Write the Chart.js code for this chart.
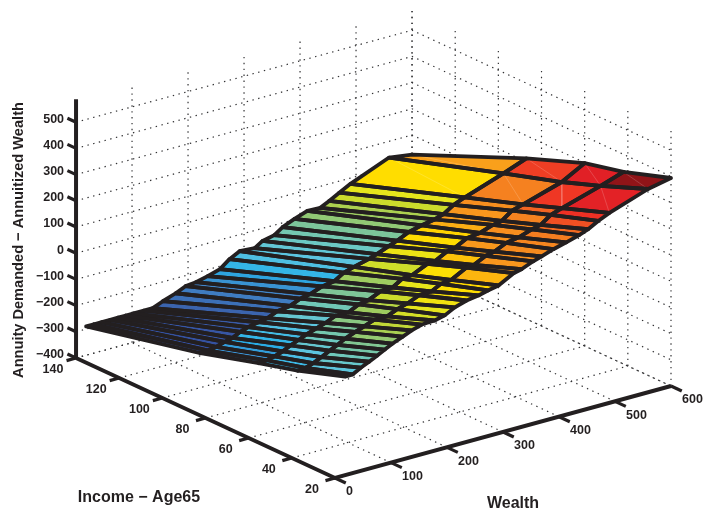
<!DOCTYPE html>
<html>
<head>
<meta charset="utf-8">
<title>Annuity surface</title>
<script src="https://cdn.jsdelivr.net/npm/chart.js@4"></script>
<style>
  html, body { margin: 0; padding: 0; background: #fff; }
  canvas { display: block; }
</style>
</head>
<body>
<canvas id="chart" width="704" height="515"></canvas>
<script>
// surface values, one z list per income line
const incomeLines = [140, 87, 60, 42, 20];
const wealthLines = [18, 32, 46, 61, 75, 89, 103, 121, 137, 155, 178, 196, 214, 235, 257, 274, 292, 319, 333, 354, 369, 390, 413, 436, 452, 470, 490, 559, 600];
const zIncome140 = [-290, -290, -290, -290, -290, -290, -290, -290, -290, -274, -257, -240, -236, -225, -211, -183, -163, -167, -148, -138, -116, -97, -80, -82, -65, -44, -22, 38, 25];
const zIncome87 = [-190, -188, -182, -172, -165, -150, -140, -132, -126, -110, -103, -86, -79, -62, -55, -32, -21, -6, 4, 22, 34, 55, 67, 76, 87, 112, 129, 180, 213];
const zIncome60 = [-125, -122, -115, -105, -90, -78, -65, -52, -41, -24, -25, -5, 1, 22, 24, 47, 51, 78, 81, 105, 111, 135, 141, 158, 164, 193, 205, 250, 298];
const zIncome42 = [-85, -82, -72, -58, -42, -28, -12, 3, 15, 30, 29, 46, 57, 76, 78, 97, 101, 132, 135, 157, 164, 185, 193, 210, 218, 245, 259, 304, 333];
const zIncome20 = [-24, -23, -6, 8, 23, 38, 53, 69, 83, 95, 97, 106, 126, 140, 147, 156, 164, 195, 202, 220, 230, 245, 258, 272, 285, 306, 325, 376, 394];
const zRows = [zIncome140, zIncome87, zIncome60, zIncome42, zIncome20];

const wealthTicks = [0, 100, 200, 300, 400, 500, 600];
const incomeTicks = [20, 40, 60, 80, 100, 120, 140];
const zTicks = [-400, -300, -200, -100, 0, 100, 200, 300, 400, 500];

// colour by mean height of a face, the two low income columns read a bit cooler
const columnShift = [0, 0, -15, -40];
const colourLevels = [-290, -209, -186, -160, -130, -89, -65, -31, -5, 20, 44, 80, 100, 114, 190, 225, 245, 285, 312];
const colourStops = ["#2b3990", "#3a5da8", "#3c70b8", "#4285c8", "#27b0e8", "#5cc4e0", "#6bc8c4", "#7cc59a", "#9ccb62", "#c8da2e", "#e6e51c", "#ffde00", "#ffd200", "#f9a01b", "#f58220", "#f04e23", "#ee2e24", "#e01f26", "#8f1418"];

const INK = "#231f20";
const Z_TOP = 588;

// fixed MATLAB-like view, turns (wealth, income, z) into plane coordinates
function project(w, inc, z) {
  return {
    x: 335 + w * 0.56 - (inc - 20) * 2.158,
    y: 478 - w * 0.1533 - (inc - 20) - (z + 400) * 0.262,
  };
}

function toRgb(hex) {
  return [1, 3, 5].map(i => parseInt(hex.slice(i, i + 2), 16));
}

function faceColour(z) {
  if (z <= colourLevels[0]) return colourStops[0];
  for (let i = 1; i < colourLevels.length; i++) {
    if (z <= colourLevels[i]) {
      const t = (z - colourLevels[i - 1]) / (colourLevels[i] - colourLevels[i - 1]);
      const a = toRgb(colourStops[i - 1]);
      const b = toRgb(colourStops[i]);
      return "rgb(" + a.map((v, k) => Math.round(v + (b[k] - v) * t)).join(",") + ")";
    }
  }
  return colourStops[colourStops.length - 1];
}

function lineSet(points, borderWidth, borderColor, extra) {
  return Object.assign({
    data: points,
    showLine: true,
    fill: false,
    tension: 0,
    pointRadius: 0,
    borderWidth,
    borderColor,
  }, extra);
}

const sets = [];

// dotted grid: floor and the two back walls
const dotted = { borderDash: [1.4, 4.5] };
const GRID = "#333335";
wealthTicks.forEach(w => {
  sets.push(lineSet([project(w, 20, -400), project(w, 140, -400)], 1.2, GRID, dotted));
  sets.push(lineSet([project(w, 140, -400), project(w, 140, Z_TOP)], 1.2, GRID, dotted));
});
incomeTicks.forEach(inc => {
  sets.push(lineSet([project(0, inc, -400), project(600, inc, -400)], 1.2, GRID, dotted));
  sets.push(lineSet([project(600, inc, -400), project(600, inc, Z_TOP)], 1.2, GRID, dotted));
});
zTicks.forEach(z => {
  sets.push(lineSet([project(0, 140, z), project(600, 140, z), project(600, 20, z)], 1.2, GRID, dotted));
});

// surface: all fills and seams first, then the black outlines over them
const outlines = [];
for (let i = wealthLines.length - 2; i >= 0; i--) {
  for (let j = 0; j < incomeLines.length - 1; j++) {
    const corners = [[i, j], [i + 1, j], [i + 1, j + 1], [i, j + 1], [i, j]];
    const pts = corners.map(c => project(wealthLines[c[0]], incomeLines[c[1]], zRows[c[1]][c[0]]));
    const mean = (zRows[j][i] + zRows[j][i + 1] + zRows[j + 1][i] + zRows[j + 1][i + 1]) / 4;
    const colour = faceColour(mean + columnShift[j]);
    sets.push(lineSet(pts, 0, colour, { fill: "shape", backgroundColor: colour }));
    // the big top faces show a pale seam between their two triangles
    if (i >= wealthLines.length - 3) {
      sets.push(lineSet([pts[1], pts[3]], 0.5, "rgba(255,255,255,0.35)"));
    }
    outlines.push(lineSet(pts, 3.8, INK, { borderJoinStyle: "round", borderCapStyle: "round" }));
  }
}
outlines.forEach(o => sets.push(o));

// axes and tick marks
const AXIS_W = 4;
sets.push(lineSet([project(0, 140, -400), project(0, 140, Z_TOP)], AXIS_W, INK));
sets.push(lineSet([project(0, 140, -400), project(0, 20, -400), project(600, 20, -400)], AXIS_W, INK));
wealthTicks.forEach(w => {
  sets.push(lineSet([project(w, 20, -400), project(w, 15, -400)], 3.2, INK));
});
incomeTicks.forEach(inc => {
  sets.push(lineSet([project(0, inc, -400), project(-17, inc, -400)], 3.2, INK));
});
zTicks.forEach(z => {
  sets.push(lineSet([project(0, 140, z), project(0, 144, z)], 3.2, INK));
});

const textPlugin = {
  id: "axisText",
  afterDatasetsDraw(chart) {
    const { ctx, scales } = chart;
    const at = p => ({ x: scales.x.getPixelForValue(p.x), y: scales.y.getPixelForValue(p.y) });
    ctx.save();
    ctx.fillStyle = INK;
    ctx.textBaseline = "middle";
    ctx.font = 'bold 12.5px "Liberation Sans"';
    ctx.textAlign = "left";
    wealthTicks.forEach(w => {
      const p = at(project(w, 20, -400));
      ctx.fillText(String(w), p.x + 11, p.y + 14);
    });
    ctx.textAlign = "center";
    incomeTicks.forEach(inc => {
      const p = at(project(0, inc, -400));
      ctx.fillText(String(inc), p.x - 23, p.y + 12);
    });
    ctx.textAlign = "right";
    zTicks.forEach(z => {
      const p = at(project(0, 140, z));
      ctx.fillText(String(z).replace("-", "\u2212"), p.x - 12, p.y - 3);
    });
    ctx.font = 'bold 16px "Liberation Sans"';
    ctx.textAlign = "center";
    ctx.fillText("Wealth", 513, 504);
    ctx.fillText("Income \u2212 Age65", 139, 498);
    ctx.font = 'bold 14.6px "Liberation Sans"';
    ctx.translate(19, 240);
    ctx.rotate(-Math.PI / 2);
    ctx.fillText("Annuity Demanded \u2212 Annuitized Wealth", 0, 0);
    ctx.restore();
  },
};

new Chart(document.getElementById("chart").getContext("2d"), {
  type: "scatter",
  data: { datasets: sets.reverse() },
  options: {
    responsive: false,
    animation: false,
    layout: { padding: 0 },
    plugins: { legend: { display: false }, tooltip: { enabled: false } },
    scales: {
      x: { type: "linear", display: false, min: 0, max: 704 },
      y: { type: "linear", display: false, min: 0, max: 515, reverse: true },
    },
  },
  plugins: [textPlugin],
});
</script>
</body>
</html>
